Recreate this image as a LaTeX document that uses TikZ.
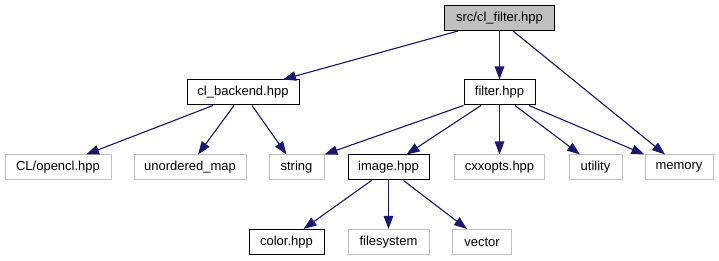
\documentclass[tikz,border=0pt]{standalone}
\usepackage{fontspec}
\setmainfont{Liberation Sans}
\usetikzlibrary{arrows.meta}
\definecolor{edgeblue}{HTML}{191970}
\definecolor{extgray}{HTML}{BFBFBF}
\definecolor{rootfill}{HTML}{BFBFBF}
\begin{document}
\begin{tikzpicture}[x=1pt,y=-1pt,
  box/.style={draw=black, line width=1pt, minimum height=25pt, inner sep=0pt,
              font=\fontsize{13}{15}\selectfont, text=black},
  root/.style={box, fill=rootfill},
  ext/.style={box, draw=extgray},
  edge/.style={draw=edgeblue, line width=1.1pt,
               -{Triangle[length=13pt,width=9.5pt]}, fill=edgeblue}
]
\path[use as bounding box, fill=white] (0,0) rectangle (719,261);

% header files
\node[root, minimum width=110pt] (src)  at (499.5,18)    {src/cl\_filter.hpp};
\node[box,  minimum width=112pt] (clb)  at (243,92.5)    {cl\_backend.hpp};
\node[box,  minimum width=71pt]  (flt)  at (499.5,92.5)  {filter.hpp};
\node[ext,  minimum width=106pt] (ocl)  at (58,167.5)    {CL/opencl.hpp};
\node[ext,  minimum width=112pt] (umap) at (190,167.5)   {unordered\_map};
\node[ext,  minimum width=55pt]  (str)  at (296.5,167.5) {string};
\node[box,  minimum width=81pt]  (img)  at (388.5,167.5) {image.hpp};
\node[ext,  minimum width=90pt]  (cxx)  at (499.5,167.5) {cxxopts.hpp};
\node[ext,  minimum width=53pt]  (utl)  at (595.5,167.5) {utility};
\node[ext,  minimum width=68pt]  (mem)  at (679,167.5)   {memory};
\node[box,  minimum width=75pt]  (col)  at (286.5,242)   {color.hpp};
\node[ext,  minimum width=81pt]  (fs)   at (388.5,242)   {filesystem};
\node[ext,  minimum width=59pt]  (vec)  at (482,242)     {vector};

% include relations
\draw[edge] ([xshift=-41.5pt]src.south) -- ([xshift=40pt]clb.north);
\draw[edge] (src.south) -- (flt.north);
\draw[edge] ([xshift=13.5pt]src.south) -- ([xshift=-14pt]mem.north);

\draw[edge] ([xshift=-30pt]clb.south) -- ([xshift=28pt]ocl.north);
\draw[edge] ([xshift=-9pt]clb.south) -- ([xshift=8pt]umap.north);
\draw[edge] ([xshift=9pt]clb.south) -- ([xshift=-10pt]str.north);

\draw[edge] ([xshift=-36pt]flt.south) -- (str.north east);
\draw[edge] ([xshift=-18.5pt]flt.south) -- ([xshift=18pt]img.north);
\draw[edge] (flt.south) -- (cxx.north);
\draw[edge] ([xshift=15.5pt]flt.south) -- ([xshift=-15.5pt]utl.north);
\draw[edge] ([xshift=29.5pt]flt.south) -- (mem.north west);

\draw[edge] ([xshift=-17pt]img.south) -- ([xshift=17pt]col.north);
\draw[edge] (img.south) -- (fs.north);
\draw[edge] ([xshift=15pt]img.south) -- ([xshift=-15pt]vec.north);
\end{tikzpicture}
\end{document}
